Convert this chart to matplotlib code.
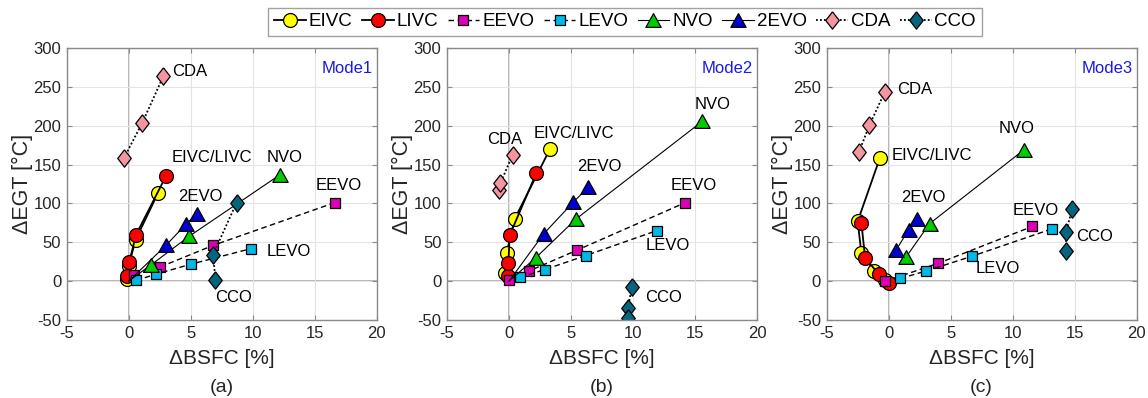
import matplotlib
matplotlib.use('Agg')
import matplotlib.pyplot as plt

plt.rcParams['font.family'] = ['Liberation Sans', 'DejaVu Sans']
plt.rcParams['axes.unicode_minus'] = False

# data (x = dBSFC [%], y = dEGT [degC])

# Mode1 (a)
a_eivc = ([-0.1, 0.0, 0.55, 2.35], [3, 20, 53, 113])
a_livc = ([-0.1, 0.05, 0.6, 3.0], [6, 25, 60, 135])
a_eevo = ([0.45, 2.5, 6.8, 16.6], [8, 18, 46, 101])
a_levo = ([0.6, 2.2, 5.05, 9.9], [1, 9, 22, 42])
a_nvo = ([0.0, 1.8, 4.9, 12.2], [0, 21, 58, 137])
a_2evo = ([0.0, 3.0, 4.6, 5.5], [0, 46, 73, 87])
a_cda = ([-0.4, 1.1, 2.8], [158, 204, 264])
a_cco = ([8.7, 6.8, 7.0], [101, 34, 2])

# Mode2 (b)
b_eivc = ([-0.35, -0.2, 0.45, 3.3], [10, 36, 80, 170])
b_livc = ([-0.1, -0.05, 0.05, 2.2], [6, 23, 59, 139])
b_eevo = ([0.0, 1.6, 5.5, 14.2], [1, 13, 40, 101])
b_levo = ([0.9, 2.9, 6.2, 11.9], [5, 15, 33, 65])
b_nvo = ([0.0, 2.15, 5.4, 15.6], [0, 30, 80, 206])
b_2evo = ([0.0, 2.8, 5.2, 6.4], [0, 61, 102, 121])
b_cda = ([-0.8, -0.7, 0.3], [118, 126, 163])
b_cco = ([9.9, 9.6, 9.6], [-8, -34, -48])

# Mode3 (c)
c_eivc = ([-0.7, -2.5, -2.2, -1.15, -0.3], [159, 77, 36, 13, 1])
c_livc = ([-2.2, -1.9, -0.8, 0.05], [75, 30, 9, -2])
c_eevo = ([-0.26, 4.0, 11.6], [0, 23, 70.5])
c_levo = ([0.94, 3.0, 6.7, 13.2], [3.5, 13, 32, 67.5])
c_nvo = ([1.4, 3.3, 10.9], [31, 74, 169])
c_2evo = ([0.6, 1.6, 2.3], [40, 66, 80])
c_cda = ([-2.4, -1.55, -0.3], [166, 201, 244])
c_cco = ([14.8, 14.3, 14.3], [93, 63, 39])

names = ['EIVC', 'LIVC', 'EEVO', 'LEVO', 'NVO', '2EVO', 'CDA', 'CCO']
modes = ['Mode1', 'Mode2', 'Mode3']
panels = ['(a)', '(b)', '(c)']
x_ticks = [-5, 0, 5, 10, 15, 20]
y_ticks = [-50, 0, 50, 100, 150, 200, 250, 300]


# style

TRI = [(0, 0.9), (-1, -0.9), (1, -0.9), (0, 0.9)]
DIA = [(0, 1), (0.78, 0), (0, -1), (-0.78, 0), (0, 1)]

STYLE = {
    'EIVC': dict(color='#ffff00', marker='o', ms=10, ls='-', lw=1.3),
    'LIVC': dict(color='#ff0000', marker='o', ms=10, ls='-', lw=1.3),
    'EEVO': dict(color='#dc00b4', marker='s', ms=7.5, ls=(0, (4, 2.5)), lw=1.0),
    'LEVO': dict(color='#00b8e6', marker='s', ms=7.5, ls=(0, (4, 2.5)), lw=1.0),
    'NVO': dict(color='#00cc00', marker=TRI, ms=11, ls='-', lw=0.8),
    '2EVO': dict(color='#0000cc', marker=TRI, ms=11, ls='-', lw=0.8),
    'CDA': dict(color='#f5959f', marker=DIA, ms=12.5, ls=(0, (1, 1.2)), lw=1.3),
    'CCO': dict(color='#05657f', marker=DIA, ms=12.5, ls=(0, (1, 1.2)), lw=1.3),
}


def plot_series(ax, name, series, skip_first=False):
    st = STYLE[name]
    markevery = slice(1, None) if skip_first else None
    return ax.plot(series[0], series[1], linestyle=st['ls'], color='black', linewidth=st['lw'],
                   marker=st['marker'], markersize=st['ms'], markerfacecolor=st['color'],
                   markeredgecolor='black', markeredgewidth=0.9, markevery=markevery,
                   label=name)[0]


def style_axes(ax, mode, panel):
    ax.set_xlim(-5, 20)
    ax.set_ylim(-50, 300)
    ax.set_xticks(x_ticks)
    ax.set_yticks(y_ticks)
    ax.grid(True, color='#e4e4e4', linewidth=0.8)
    ax.set_axisbelow(True)
    ax.axhline(0, color='#a8a8a8', linewidth=1.2, zorder=0.5)
    ax.axvline(0, color='#a8a8a8', linewidth=1.2, zorder=0.5)
    for sp in ax.spines.values():
        sp.set_color('#8a8a8a')
        sp.set_linewidth(1.0)
    ax.tick_params(direction='in', length=3.5, color='#8a8a8a', labelsize=12,
                   labelcolor='#262626', top=True, right=True, pad=4)
    ax.set_xlabel('\u0394BSFC [%]', fontsize=15, color='#262626')
    ax.xaxis.set_label_coords(0.5, -0.105)
    ax.set_ylabel('\u0394EGT [\u00b0C]', fontsize=15.5, color='#262626')
    ax.yaxis.set_label_coords(-0.11, 0.5)
    ax.text(0.5, -0.25, panel, transform=ax.transAxes, ha='center', va='center',
            fontsize=14, color='#262626')
    ax.text(0.988, 0.925, mode, transform=ax.transAxes, ha='right', va='center',
            fontsize=12, color='#1a1ae0')


# plot

fig = plt.figure(figsize=(11.48, 3.98), dpi=100)
lefts = [0.0581, 0.3894, 0.7201]
axes = [fig.add_axes([l, 0.196, 0.270, 0.683]) for l in lefts]

data = [
    [a_eivc, a_livc, a_eevo, a_levo, a_nvo, a_2evo, a_cda, a_cco],
    [b_eivc, b_livc, b_eevo, b_levo, b_nvo, b_2evo, b_cda, b_cco],
    [c_eivc, c_livc, c_eevo, c_levo, c_nvo, c_2evo, c_cda, c_cco],
]
skip = [
    [False, False, False, False, True, True, False, False],
    [False, False, False, False, True, True, False, False],
    [False] * 8,
]

# annotation positions (data coords, left aligned)
labels = [
    [('CDA', 3.5, 270), ('EIVC/LIVC', 3.5, 159), ('NVO', 11.1, 159), ('2EVO', 4.0, 109),
     ('LEVO', 11.1, 38), ('CCO', 7.0, -21), ('EEVO', 15.1, 123)],
    [('CDA', -1.8, 183), ('EIVC/LIVC', 2.0, 190), ('2EVO', 5.5, 147), ('NVO', 15.0, 228),
     ('EEVO', 13.0, 123), ('LEVO', 11.0, 46), ('CCO', 11.0, -21)],
    [('CDA', 0.7, 247), ('EIVC/LIVC', 0.2, 162), ('2EVO', 1.0, 108), ('NVO', 8.9, 196),
     ('EEVO', 10.0, 91), ('LEVO', 7.0, 16), ('CCO', 15.1, 58)],
]

handles = []
for i, ax in enumerate(axes):
    style_axes(ax, modes[i], panels[i])
    hs = [plot_series(ax, n, s, k) for n, s, k in zip(names, data[i], skip[i])]
    if i == 0:
        handles = hs
    for text, x, y in labels[i]:
        ax.text(x, y, text, ha='left', va='center', fontsize=12, color='black')

leg = fig.legend(handles, names, loc='center', bbox_to_anchor=(0.5444, 0.945), ncol=8,
                 fontsize=13.5, frameon=True, fancybox=False, handlelength=1.7,
                 handletextpad=0.15, columnspacing=0.5, borderpad=0.3, borderaxespad=0)
leg.get_frame().set_edgecolor('#8a8a8a')
leg.get_frame().set_linewidth(1.0)

fig.savefig('out.png', dpi=100)
